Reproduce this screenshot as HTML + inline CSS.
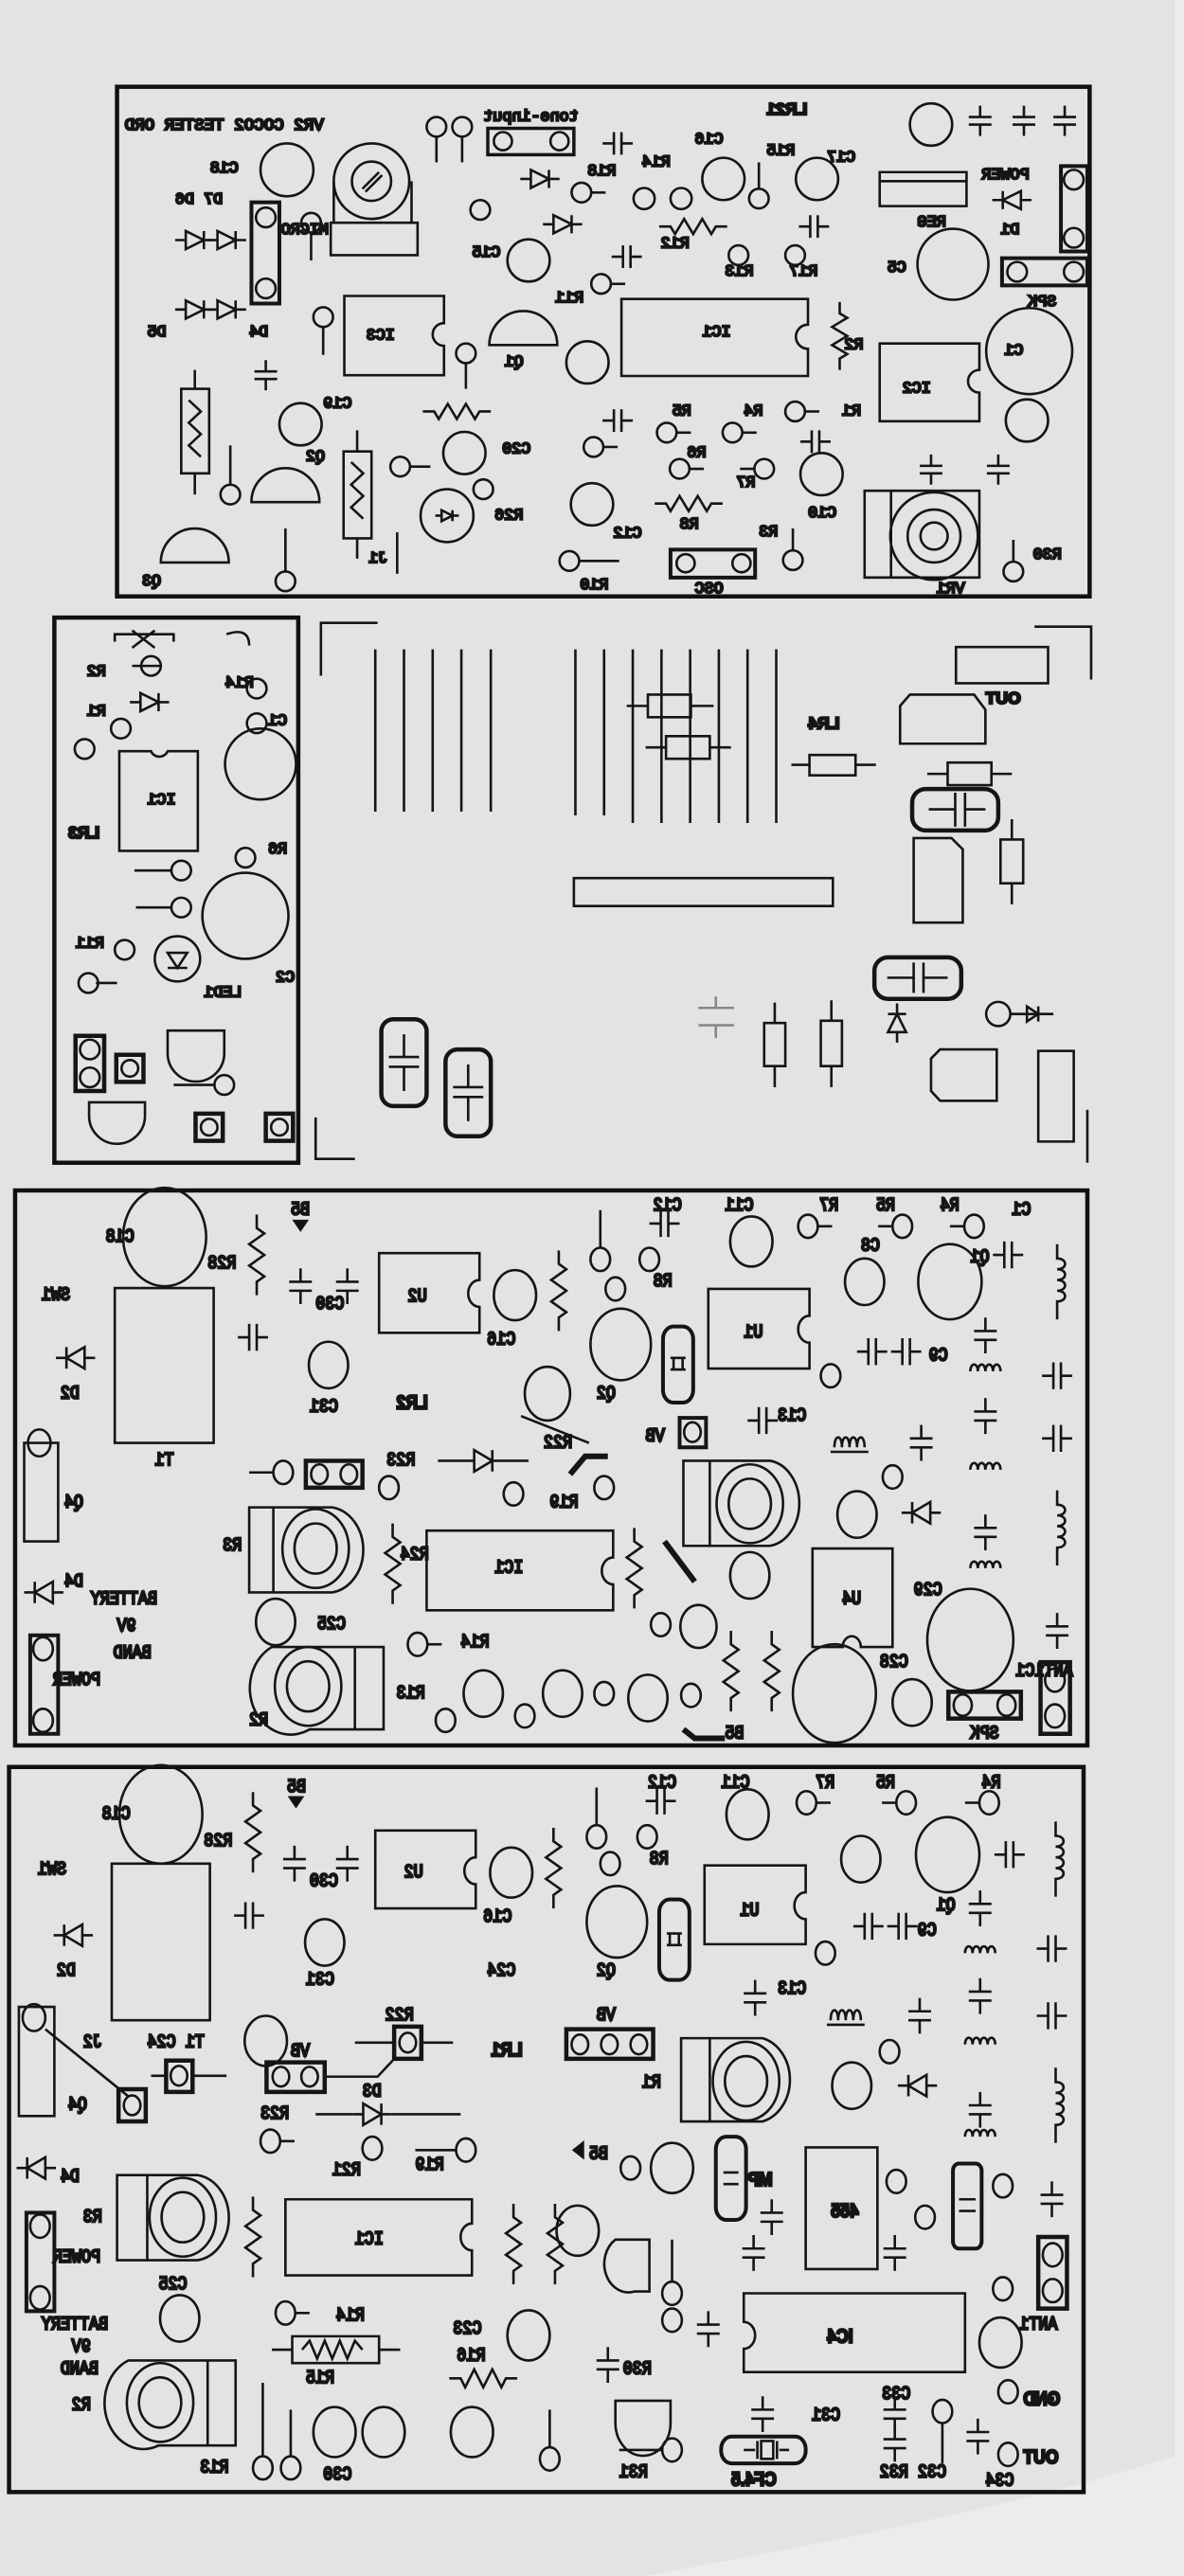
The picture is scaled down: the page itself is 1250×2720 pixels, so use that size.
<!DOCTYPE html>
<html><head><meta charset="utf-8"><style>
html,body{margin:0;padding:0;background:#e3e3e3;}
svg{display:block}
svg *{vector-effect:non-scaling-stroke}
.s{fill:none;stroke:#151515;stroke-width:2.6}
.b{fill:none;stroke:#111;stroke-width:4.5}
.t{font-family:"Liberation Mono",monospace;fill:#858585;font-size:21px}
.tb{font-family:"Liberation Sans",sans-serif;fill:#222;font-size:22px;font-weight:bold}
.m{transform-box:fill-box;transform-origin:center;transform:scale(-1,1)}
</style></head><body>
<svg width="1250" height="2720" viewBox="0 0 1250 2720" xmlns="http://www.w3.org/2000/svg">
<defs>
<path id="ch" d="M-20 0H-5M5 0H20M-5-15V15M5-15V15"/>
<path id="cv" d="M0-20V-5M0 5V20M-15-5H15M-15 5H15"/>
<path id="zv" d="M0-45V-30L10-24L-10-12L10 0L-10 12L10 24L0 30V45"/>
<path id="zh" d="M-45 0H-30L-24 10L-12-10L0 10L12-10L24 10L30 0H45"/>
<path id="dh" d="M-26 0H-12M12 0H26M-12-12L12 0L-12 12ZM12-12V12"/>
<path id="dv" d="M0-26V-12M0 12V26M-12-12L0 12L12-12ZM-12 12H12"/>
<path id="ind" d="M0-42V-26C14-26 14-14 0-14C14-14 14-2 0-2C14-2 14 10 0 10C14 10 14 22 0 22V42"/>
<g id="pad"><circle r="13"/><path d="M13 0H32"/></g>
<path id="qu" d="M-45 0A45 45 0 0 1 45 0Z"/>
</defs>

<rect x="1240" y="0" width="10" height="2720" fill="#ececec"/>
<path d="M680 2720C900 2680 1100 2640 1250 2590V2720Z" fill="#ececec"/>

<g transform="scale(0.7972)" class="s">
<rect class="b" x="155" y="115" width="1288" height="675"/>
<text class="t m" x="165" y="172" style="font-size:22px">VR2 COCO2 TESTER ORD</text>
<text class="tb m" x="1015" y="152">LR21</text>
<circle cx="380" cy="225" r="35"/><text class="t m" x="278" y="228">C18</text>
<circle cx="492" cy="240" r="50"/><circle cx="492" cy="240" r="26"/><path d="M480 250L502 228M484 254L506 232"/><rect x="438" y="295" width="115" height="43"/><path d="M442 240V295M545 240V295"/>
<circle cx="578" cy="168" r="13"/><path d="M578 181V215"/><circle cx="612" cy="168" r="13"/><path d="M612 181V215"/>
<text class="t m" x="640" y="160">tone-input</text>
<rect x="646" y="170" width="114" height="35" style="stroke-width:3.5"/><circle cx="666" cy="187" r="12"/><circle cx="741" cy="187" r="12"/>
<use href="#dh" x="715" y="237"/><use href="#dh" x="745" y="297"/>
<use href="#cv" x="818" y="190" transform="rotate(90 818 190)"/>
<use href="#pad" x="770" y="255"/><text class="t m" x="778" y="232">R18</text>
<circle cx="853" cy="263" r="14"/><circle cx="902" cy="263" r="14"/><text class="t m" x="850" y="220">R14</text>
<circle cx="958" cy="237" r="28"/><text class="t m" x="920" y="190">C16</text>
<circle cx="1005" cy="263" r="13"/><path d="M1005 250V215"/>
<circle cx="1082" cy="237" r="28"/><text class="t m" x="1095" y="214">C17</text><text class="t m" x="1015" y="205">R15</text>
<use href="#cv" x="1298" y="160"/><use href="#cv" x="1356" y="160"/><use href="#cv" x="1410" y="160"/>
<circle cx="1233" cy="165" r="28"/>
<rect x="1165" y="228" width="115" height="45"/><path d="M1165 240H1280"/><text class="t m" x="1215" y="300">REG</text>
<text class="t m" x="1300" y="237">POWER</text><use href="#dh" x="1340" y="265" transform="rotate(180 1340 265)"/><text class="t m" x="1325" y="310">D1</text>
<rect x="1405" y="220" width="35" height="113" style="stroke-width:4"/><circle cx="1422" cy="238" r="13"/><circle cx="1422" cy="315" r="13"/>
<rect x="1327" y="342" width="113" height="36" style="stroke-width:4"/><circle cx="1347" cy="360" r="13"/><circle cx="1422" cy="360" r="13"/><text class="t m" x="1360" y="405">SPK</text>
<circle cx="1262" cy="350" r="47"/><text class="t m" x="1175" y="360">C5</text>
<circle cx="1363" cy="465" r="57"/><text class="t m" x="1330" y="470">C1</text>
<circle cx="1360" cy="557" r="28"/>
<path d="M1165 455H1297V490A15 15 0 0 0 1297 520V558H1165Z"/><text class="t m" x="1195" y="520">IC2</text>
<path d="M823 396H1070V430A16 16 0 0 0 1070 462V498H823Z"/><text class="t m" x="930" y="445">IC1</text>
<path d="M456 392H588V428A15 15 0 0 0 588 458V497H456Z"/><text class="t m" x="485" y="450">IC3</text>
<use href="#zv" x="1112" y="445"/><text class="t m" x="1118" y="462">R2</text>
<use href="#qu" x="693" y="457"/><text class="t m" x="668" y="485">Q1</text>
<circle cx="700" cy="345" r="28"/><text class="t m" x="625" y="340">C15</text>
<circle cx="778" cy="480" r="28"/><use href="#pad" x="796" y="376"/><text class="t m" x="735" y="400">R11</text>
<rect x="333" y="268" width="37" height="134" style="stroke-width:4"/><circle cx="352" cy="288" r="13"/><circle cx="352" cy="382" r="13"/><text class="t m" x="372" y="310">MICRO</text>
<use href="#dh" x="258" y="318"/><use href="#dh" x="300" y="318"/><use href="#dh" x="258" y="410"/><use href="#dh" x="300" y="410"/>
<text class="t m" x="232" y="270">D7 D6</text><text class="t m" x="195" y="445">D5</text><text class="t m" x="330" y="445">D4</text>
<circle cx="412" cy="295" r="13"/><path d="M412 308V345"/><circle cx="428" cy="420" r="13"/><path d="M428 433V470"/>
<circle cx="617" cy="468" r="13"/><path d="M617 481V515"/>
<use href="#cv" x="352" y="497"/>
<circle cx="398" cy="562" r="28"/><text class="t m" x="428" y="540">C19</text>
<use href="#qu" x="378" y="665"/><text class="t m" x="405" y="610">Q2</text>
<rect x="240" y="515" width="37" height="112"/><path d="M258 490V515M258 627V655M250 530L266 545L250 560L266 575L250 590L266 605"/>
<circle cx="305" cy="655" r="13"/><path d="M305 642V590"/>
<use href="#qu" x="258" y="745"/><text class="t m" x="188" y="775">Q3</text>
<circle cx="378" cy="770" r="13"/><path d="M378 757V700"/>
<rect x="455" y="598" width="37" height="115"/><path d="M473 570V598M473 713V740M465 612L481 627L465 642L481 657L465 672L481 687"/>
<path d="M526 705V760"/><text class="t m" x="488" y="745">J1</text>
<use href="#zh" x="605" y="545"/><circle cx="615" cy="600" r="28"/><text class="t m" x="665" y="600">C20</text>
<circle cx="592" cy="683" r="35"/><use href="#dh" x="592" y="683" transform="scale(0.6) translate(394.7 455.3)"/>
<circle cx="530" cy="618" r="13"/><path d="M543 618H570"/>
<circle cx="640" cy="648" r="13"/><text class="t m" x="655" y="688">R26</text>
<circle cx="784" cy="668" r="28"/><text class="t m" x="812" y="712">C12</text>
<use href="#pad" x="786" y="592"/>
<use href="#cv" x="818" y="557" transform="rotate(90 818 557)"/>
<use href="#pad" x="883" y="573"/><use href="#pad" x="900" y="621"/><use href="#pad" x="970" y="573"/><use href="#pad" x="1012" y="621" transform="rotate(180 1012 621)"/><use href="#pad" x="1053" y="545"/>
<text class="t m" x="890" y="550">R5</text><text class="t m" x="985" y="550">R4</text><text class="t m" x="1115" y="550">R1</text><text class="t m" x="910" y="605">R6</text><text class="t m" x="975" y="645">R7</text>
<use href="#cv" x="1080" y="585" transform="rotate(90 1080 585)"/><circle cx="1088" cy="628" r="28"/><text class="t m" x="1070" y="685">C10</text>
<use href="#zh" x="912" y="667"/><text class="t m" x="900" y="700">R8</text>
<rect x="888" y="728" width="112" height="37" style="stroke-width:4"/><circle cx="908" cy="746" r="12"/><circle cx="982" cy="746" r="12"/><text class="t m" x="920" y="785">OSC</text>
<circle cx="1050" cy="742" r="13"/><path d="M1050 729V700"/><text class="t m" x="1005" y="710">R3</text>
<circle cx="754" cy="743" r="13"/><path d="M767 743H820"/><text class="t m" x="768" y="780">R10</text>
<rect x="1145" y="650" width="152" height="115"/><circle cx="1237" cy="710" r="58"/><circle cx="1237" cy="710" r="35"/><circle cx="1237" cy="710" r="18"/><path d="M1180 650V765"/><text class="t m" x="1240" y="785">VR1</text>
<circle cx="1342" cy="757" r="13"/><path d="M1342 744V715"/><text class="t m" x="1368" y="740" transform="rotate(90 1378 740)">R30</text>
<use href="#cv" x="1233" y="622"/><use href="#cv" x="1322" y="622"/>
<use href="#zh" x="918" y="300"/><text class="t m" x="875" y="328">R12</text>
<circle cx="978" cy="338" r="13"/><circle cx="1053" cy="338" r="13"/><text class="t m" x="960" y="365">R13</text><text class="t m" x="1045" y="365">R17</text>
<use href="#ch" x="1078" y="300"/><use href="#ch" x="830" y="340"/>
<circle cx="636" cy="278" r="13"/>

<rect class="b" x="72" y="818" width="323" height="722"/>
<path d="M158 995H200A12 12 0 0 0 222 995H262V1127H158Z"/><text class="t m" x="195" y="1065" transform="rotate(90 210 1060)">IC1</text>
<text class="tb m" x="90" y="1110" transform="rotate(90 105 1105)">LR3</text>
<circle cx="345" cy="1012" r="47"/><circle cx="325" cy="1213" r="57"/>
<circle cx="340" cy="912" r="13"/><circle cx="340" cy="958" r="13"/><circle cx="200" cy="882" r="13"/><circle cx="160" cy="965" r="13"/><circle cx="112" cy="992" r="13"/><circle cx="325" cy="1136" r="13"/><circle cx="240" cy="1153" r="13"/><circle cx="240" cy="1202" r="13"/><circle cx="165" cy="1258" r="13"/><circle cx="117" cy="1302" r="13"/><circle cx="297" cy="1437" r="13"/>
<path d="M175 882H213M127 1302H155M228 1153H178M228 1202H180M230 1437H284"/>
<circle cx="235" cy="1270" r="30"/><path d="M222 1262L248 1262L235 1282ZM222 1282H248"/>
<use href="#dh" x="198" y="930"/>
<path d="M222 1365H297V1395A37 37 0 0 1 222 1395Z"/>
<path d="M118 1460H192V1478A37 37 0 0 1 118 1478Z"/>
<rect x="100" y="1372" width="38" height="73" style="stroke-width:4.5"/><circle cx="119" cy="1390" r="13"/><circle cx="119" cy="1427" r="13"/>
<rect x="154" y="1397" width="36" height="36" style="stroke-width:4.5"/><circle cx="172" cy="1415" r="11"/>
<rect x="259" y="1475" width="36" height="36" style="stroke-width:4.5"/><circle cx="277" cy="1493" r="11"/>
<rect x="352" y="1475" width="36" height="36" style="stroke-width:4.5"/><circle cx="370" cy="1493" r="11"/>
<path d="M152 850V840H230V850M175 835L205 858M205 835L175 858"/>
<path d="M300 840Q330 830 330 855"/>
<text class="t m" x="115" y="895" transform="rotate(90 125 890)">R2</text><text class="t m" x="115" y="948" transform="rotate(90 125 945)">R1</text><text class="t m" x="298" y="910" transform="rotate(90 310 910)">R14</text><text class="t m" x="355" y="960" transform="rotate(90 368 955)">C1</text><text class="t m" x="355" y="1130" transform="rotate(90 365 1125)">R6</text><text class="t m" x="365" y="1300" transform="rotate(90 375 1295)">C2</text><text class="t m" x="100" y="1255" transform="rotate(90 110 1250)">R11</text><text class="t m" x="270" y="1320" transform="rotate(90 285 1315)">LED1</text>

<path d="M500 825H425V895M1370 830H1445V900M418 1480V1535H470M1440 1470V1540"/>
<path d="M497 860V1075M535 860V1075M573 860V1075M611 860V1075M650 860V1075"/>
<path d="M762 860V1080M800 860V1080M838 860V1090M876 860V1090M914 860V1090M952 860V1090M990 860V1090M1028 860V1090"/>
<rect x="858" y="920" width="57" height="30"/><path d="M830 935H858M915 935H945"/>
<rect x="882" y="975" width="58" height="30"/><path d="M855 990H882M940 990H968"/>
<text class="tb m" x="1070" y="965">LR4</text>
<rect x="1072" y="1000" width="61" height="27"/><path d="M1048 1013H1072M1133 1013H1160"/>
<rect x="1266" y="857" width="122" height="48"/><text class="tb m" x="1305" y="932">OUT</text>
<path d="M1205 920H1290L1305 940V985H1192V935Z"/>
<rect x="1255" y="1010" width="58" height="30"/><path d="M1228 1025H1255M1313 1025H1340"/>
<rect x="1208" y="1045" width="114" height="55" rx="18" style="stroke-width:4.5"/><path d="M1265 1050V1095M1278 1050V1095M1230 1072H1265M1278 1072H1305"/>
<rect x="1325" y="1112" width="30" height="58"/><path d="M1340 1085V1112M1340 1170V1198"/>
<path d="M1210 1110H1260L1275 1125V1222H1210Z"/>
<rect x="760" y="1163" width="343" height="37"/>
<rect x="1158" y="1268" width="115" height="55" rx="18" style="stroke-width:4.5"/><path d="M1210 1275V1315M1223 1275V1315M1175 1295H1210M1223 1295H1255"/>
<path d="M925 1335H972M925 1358H972M948 1320V1335M948 1358V1375" style="stroke:#888"/>
<rect x="1012" y="1355" width="28" height="57"/><path d="M1026 1328V1355M1026 1412V1440"/>
<rect x="1087" y="1352" width="28" height="60"/><path d="M1101 1325V1352M1101 1412V1440"/>
<use href="#dv" x="1188" y="1355" transform="rotate(180 1188 1355)"/>
<circle cx="1322" cy="1343" r="16"/><path d="M1338 1343H1395M1360 1333L1375 1343L1360 1353ZM1375 1333V1353"/>
<path d="M1245 1390H1320V1458H1245L1233 1445V1402Z"/>
<rect x="1375" y="1392" width="47" height="120"/>
<rect x="505" y="1350" width="60" height="115" rx="16" style="stroke-width:4.5"/><path d="M515 1400H555M515 1413H555M535 1370V1400M535 1413V1445"/>
<rect x="590" y="1390" width="60" height="115" rx="16" style="stroke-width:4.5"/><path d="M600 1440H640M600 1453H640M620 1410V1440M620 1453V1485"/>
</g>

<g transform="translate(0 1240) scale(0.7972 0.9452)" class="s">
<rect class="b" x="20" y="18" width="1420" height="620"/>
<circle cx="218" cy="70" r="55"/><text class="t m" x="140" y="75">C18</text>
<use href="#zv" x="340" y="90"/><text class="t m" x="275" y="105">R28</text>
<path d="M390 52H406L398 62Z" style="fill:#111"/><text class="t m" x="385" y="45">B5</text>
<use href="#cv" x="398" y="125"/><use href="#cv" x="460" y="125"/><text class="t m" x="418" y="150" transform="rotate(90 430 140)">C30</text>
<path d="M502 88H635V118A15 15 0 0 0 635 148V177H502Z"/><text class="t m" x="540" y="142">U2</text>
<circle cx="682" cy="135" r="28"/><text class="t m" x="645" y="190">C16</text>
<use href="#zv" x="740" y="130"/>
<circle cx="795" cy="95" r="13"/><path d="M795 82V40"/><circle cx="860" cy="95" r="13"/><circle cx="815" cy="128" r="13"/><text class="t m" x="865" y="125">R8</text>
<use href="#cv" x="880" y="55" transform="rotate(90 880 55)"/><text class="t m" x="865" y="40">C12</text>
<circle cx="995" cy="75" r="28"/><text class="t m" x="960" y="40">C11</text>
<use href="#pad" x="1070" y="58"/><use href="#pad" x="1195" y="58" transform="rotate(180 1195 58)"/><use href="#pad" x="1290" y="58" transform="rotate(180 1290 58)"/>
<text class="t m" x="1085" y="40">R7</text><text class="t m" x="1160" y="40">R5</text><text class="t m" x="1245" y="40">R4</text>
<circle cx="1258" cy="120" r="42"/><text class="t m" x="1285" y="98">Q1</text>
<use href="#cv" x="1335" y="90" transform="rotate(90 1335 90)"/><use href="#ind" x="1400" y="120"/><text class="t m" x="1340" y="45" transform="rotate(90 1350 40)">C1</text>
<circle cx="1145" cy="120" r="26"/><text class="t m" x="1140" y="85">C8</text>
<path d="M938 128H1072V158A15 15 0 0 0 1072 188V217H938Z"/><text class="t m" x="985" y="182">U1</text>
<use href="#ch" x="1155" y="198"/><use href="#ch" x="1200" y="198"/><circle cx="1100" cy="225" r="13"/><text class="t m" x="1230" y="208">C9</text>
<circle cx="822" cy="190" r="40"/><text class="t m" x="790" y="250">Q2</text>
<rect x="878" y="170" width="40" height="85" rx="14" style="stroke-width:4"/><path d="M888 205H908M888 218H908M892 205V218M904 205V218"/>
<use href="#ch" x="335" y="182"/><circle cx="435" cy="213" r="26"/><text class="t m" x="410" y="265">C31</text>
<rect x="152" y="127" width="131" height="173"/><text class="t m" x="205" y="325">T1</text><text class="t m" x="55" y="140">SW1</text>
<use href="#dv" x="100" y="205" transform="rotate(90 100 205)"/><text class="t m" x="80" y="250">D2</text>
<circle cx="725" cy="245" r="30"/><path d="M690 270L780 300"/><text class="t m" x="720" y="305">R22</text>
<text class="tb m" x="525" y="262">LR2</text>
<use href="#ch" x="1305" y="180" transform="rotate(90 1305 180)"/><use href="#ch" x="1400" y="225"/>
<path d="M1285 220C1285 210 1295 210 1295 220C1295 210 1305 210 1305 220C1305 210 1315 210 1315 220C1315 210 1325 210 1325 220"/>
<use href="#ch" x="1305" y="270" transform="rotate(90 1305 270)"/><use href="#ch" x="1400" y="295"/>
<rect x="900" y="272" width="35" height="33" style="stroke-width:4"/><circle cx="917" cy="288" r="11"/><text class="t m" x="855" y="298">VB</text>
<use href="#ch" x="1010" y="275"/><text class="t m" x="1030" y="275">C13</text>
<path d="M1100 310H1150M1105 305C1105 290 1115 290 1115 305C1115 290 1125 290 1125 305C1125 290 1135 290 1135 305C1135 290 1145 290 1145 305"/>
<use href="#cv" x="1220" y="300"/>
<circle cx="375" cy="333" r="13"/><path d="M330 333H362"/>
<rect x="405" y="320" width="75" height="30" style="stroke-width:4.5"/><circle cx="423" cy="335" r="11"/><circle cx="462" cy="335" r="11"/>
<circle cx="515" cy="350" r="13"/><text class="t m" x="512" y="325">R23</text>
<use href="#dh" x="640" y="320"/><path d="M580 320H614M666 320H700"/>
<circle cx="680" cy="357" r="13"/><circle cx="800" cy="350" r="13"/><text class="t m" x="728" y="372">R19</text>
<path d="M755 335L775 315H805" style="stroke-width:6"/>
<path d="M905 320H1020A45 48 0 0 1 1020 415H905Z"/><circle cx="993" cy="368" r="44"/><circle cx="993" cy="368" r="28"/><path d="M940 320V415"/>
<circle cx="1182" cy="338" r="13"/><circle cx="1135" cy="380" r="26"/><use href="#dh" x="1220" y="378" transform="rotate(180 1220 378)"/>
<path d="M1285 330C1285 320 1295 320 1295 330C1295 320 1305 320 1305 330C1305 320 1315 320 1315 330C1315 320 1325 320 1325 330"/>
<use href="#ind" x="1400" y="395"/>
<use href="#ch" x="1305" y="400" transform="rotate(90 1305 400)"/>
<path d="M1285 440C1285 430 1295 430 1295 440C1295 430 1305 430 1305 440C1305 430 1315 430 1315 440C1315 430 1325 430 1325 440"/>
<rect x="32" y="300" width="45" height="110"/><circle cx="52" cy="300" r="15"/><text class="t m" x="85" y="372">Q4</text>
<use href="#dv" x="58" y="467" transform="rotate(90 58 467)"/><text class="t m" x="85" y="460">D4</text>
<text class="t m" x="120" y="480">BATTERY</text><text class="t m" x="155" y="510">9V</text><text class="t m" x="150" y="540">BAND</text>
<rect x="40" y="515" width="37" height="110" style="stroke-width:4"/><circle cx="57" cy="530" r="13"/><circle cx="57" cy="610" r="13"/><text class="t m" x="70" y="570" transform="rotate(90 115 565)">POWER</text>
<path d="M330 372H440A48 48 0 0 1 440 467H330Z"/><circle cx="418" cy="418" r="44"/><circle cx="418" cy="418" r="28"/><path d="M362 372V467"/><text class="t m" x="295" y="420" transform="rotate(90 305 415)">R3</text>
<use href="#zv" x="520" y="435"/><text class="t m" x="530" y="430" transform="rotate(90 545 430)">R24</text>
<path d="M565 398H812V428A15 15 0 0 0 812 458V487H565Z"/><text class="t m" x="655" y="445">IC1</text>
<use href="#zv" x="840" y="440"/><path d="M880 410L920 455" style="stroke-width:6"/>
<circle cx="993" cy="448" r="26"/><path d="M1076 418H1182V528H1140A12 12 0 0 0 1116 528H1076Z"/><text class="t m" x="1115" y="480" transform="rotate(90 1128 470)">U4</text>
<circle cx="1285" cy="520" r="57"/><text class="t m" x="1210" y="470">C29</text>
<use href="#ch" x="1400" y="510" transform="rotate(90 1400 510)"/><text class="t m" x="1345" y="560" transform="rotate(90 1360 555)">ANT1C1</text>
<circle cx="365" cy="500" r="26"/><text class="t m" x="420" y="508">C25</text>
<path d="M360 528H508V620H410A48 46 0 0 1 360 528Z"/><circle cx="408" cy="572" r="44"/><circle cx="408" cy="572" r="28"/><path d="M470 528V620"/><text class="t m" x="330" y="615">R2</text>
<use href="#pad" x="553" y="525"/><text class="t m" x="610" y="528">R14</text>
<circle cx="640" cy="580" r="26"/><circle cx="745" cy="580" r="26"/><circle cx="800" cy="580" r="13"/><circle cx="858" cy="585" r="26"/><circle cx="915" cy="582" r="13"/>
<circle cx="590" cy="610" r="13"/><circle cx="695" cy="605" r="13"/><text class="t m" x="525" y="585">R13</text>
<use href="#zv" x="968" y="555"/><use href="#zv" x="1022" y="555"/>
<circle cx="1105" cy="580" r="55"/><circle cx="1208" cy="590" r="26"/><text class="t m" x="1165" y="550">C28</text>
<rect x="1256" y="578" width="96" height="30" style="stroke-width:4.5"/><circle cx="1275" cy="593" r="12"/><circle cx="1333" cy="593" r="12"/><text class="t m" x="1285" y="630">SPK</text>
<rect x="1378" y="545" width="39" height="80" style="stroke-width:4.5"/><circle cx="1397" cy="565" r="13"/><circle cx="1397" cy="605" r="13"/>
<circle cx="875" cy="503" r="13"/><circle cx="925" cy="505" r="24"/><path d="M905 620L920 630H960" style="stroke-width:6"/><text class="t m" x="960" y="630">B5</text>

<rect class="b" x="12" y="662" width="1423" height="810"/>
<circle cx="213" cy="715" r="55"/><text class="t m" x="135" y="720">C18</text>
<use href="#zv" x="335" y="735"/><text class="t m" x="270" y="750">R28</text>
<path d="M384 696H400L392 706Z" style="fill:#111"/><text class="t m" x="380" y="690">B5</text>
<use href="#cv" x="390" y="770"/><use href="#cv" x="460" y="770"/><text class="t m" x="410" y="795" transform="rotate(90 425 785)">C30</text>
<path d="M497 733H630V763A15 15 0 0 0 630 793V820H497Z"/><text class="t m" x="535" y="785">U2</text>
<circle cx="677" cy="780" r="28"/><text class="t m" x="640" y="835">C16</text><use href="#zv" x="733" y="775"/>
<circle cx="790" cy="740" r="13"/><path d="M790 727V685"/><circle cx="857" cy="740" r="13"/><circle cx="808" cy="770" r="13"/><text class="t m" x="860" y="770">R8</text>
<use href="#cv" x="875" y="700" transform="rotate(90 875 700)"/><text class="t m" x="858" y="685">C12</text>
<circle cx="990" cy="715" r="28"/><text class="t m" x="955" y="685">C11</text>
<use href="#pad" x="1068" y="702"/><use href="#pad" x="1200" y="702" transform="rotate(180 1200 702)"/><use href="#pad" x="1310" y="702" transform="rotate(180 1310 702)"/>
<text class="t m" x="1080" y="685">R7</text><text class="t m" x="1160" y="685">R5</text><text class="t m" x="1300" y="685">R4</text>
<circle cx="1255" cy="760" r="42"/><text class="t m" x="1240" y="822">Q1</text>
<use href="#cv" x="1337" y="760" transform="rotate(90 1337 760)"/><use href="#ind" x="1398" y="765"/>
<circle cx="1140" cy="765" r="26"/>
<path d="M933 772H1067V802A15 15 0 0 0 1067 832V860H933Z"/><text class="t m" x="980" y="828">U1</text>
<circle cx="1093" cy="870" r="13"/><use href="#ch" x="1150" y="840"/><use href="#ch" x="1195" y="840"/><text class="t m" x="1215" y="850">C9</text>
<circle cx="817" cy="835" r="40"/><text class="t m" x="790" y="895">Q2</text>
<rect x="873" y="810" width="40" height="90" rx="14" style="stroke-width:4"/><path d="M883 848H903M883 861H903M887 848V861M899 848V861"/>
<text class="t m" x="50" y="782">SW1</text>
<rect x="148" y="770" width="130" height="175"/>
<use href="#dv" x="97" y="850" transform="rotate(90 97 850)"/><text class="t m" x="75" y="895">D2</text>
<use href="#ch" x="330" y="828"/><circle cx="430" cy="858" r="26"/><text class="t m" x="405" y="905">C31</text><text class="t m" x="645" y="895" transform="rotate(90 655 885)">C24</text>
<use href="#ch" x="1298" y="820" transform="rotate(90 1298 820)"/><use href="#ch" x="1393" y="865"/>
<path d="M1278 870C1278 860 1288 860 1288 870C1288 860 1298 860 1298 870C1298 860 1308 860 1308 870C1308 860 1318 860 1318 870"/>
<use href="#ch" x="1298" y="918" transform="rotate(90 1298 918)"/><use href="#ch" x="1393" y="940"/>
<rect x="25" y="930" width="47" height="122"/><circle cx="45" cy="942" r="15"/><path d="M60 955L170 1030"/><text class="t m" x="90" y="1045">Q4</text>
<rect x="157" y="1022" width="36" height="36" style="stroke-width:4.5"/><circle cx="175" cy="1040" r="11"/>
<rect x="220" y="990" width="35" height="35" style="stroke-width:4.5"/><circle cx="237" cy="1007" r="11"/><path d="M200 1007H220M255 1007H300"/>
<text class="t m" x="110" y="975">J2</text><text class="t m" x="195" y="975">T1 C24</text>
<circle cx="352" cy="968" r="28"/><rect x="353" y="992" width="77" height="33" style="stroke-width:4.5"/><circle cx="372" cy="1008" r="11"/><circle cx="410" cy="1008" r="11"/><text class="t m" x="385" y="985">VB</text>
<rect x="522" y="952" width="36" height="36" style="stroke-width:4.5"/><circle cx="540" cy="970" r="11"/><path d="M470 970H522M558 970H600M430 1008H500L520 990"/><text class="t m" x="510" y="945">R22</text>
<text class="tb m" x="650" y="985" transform="rotate(90 665 975)">LR1</text>
<rect x="750" y="955" width="115" height="33" style="stroke-width:4.5"/><circle cx="768" cy="972" r="11"/><circle cx="807" cy="972" r="11"/><circle cx="846" cy="972" r="11"/><text class="t m" x="790" y="945">VB</text>
<path d="M902 965H1010A48 48 0 0 1 1010 1058H902Z"/><circle cx="988" cy="1013" r="44"/><circle cx="988" cy="1013" r="28"/><path d="M940 965V1058"/><text class="t m" x="850" y="1020">R1</text>
<use href="#ch" x="1000" y="920" transform="rotate(90 1000 920)"/><text class="t m" x="1030" y="915">C13</text>
<path d="M1095 950H1145M1100 945C1100 930 1110 930 1110 945C1110 930 1120 930 1120 945C1120 930 1130 930 1130 945C1130 930 1140 930 1140 945"/>
<use href="#cv" x="1218" y="940"/><circle cx="1178" cy="980" r="13"/><circle cx="1128" cy="1018" r="26"/><use href="#dh" x="1215" y="1018" transform="rotate(180 1215 1018)"/>
<path d="M1278 972C1278 962 1288 962 1288 972C1288 962 1298 962 1298 972C1298 962 1308 962 1308 972C1308 962 1318 962 1318 972"/>
<use href="#ind" x="1398" y="1040"/><use href="#ch" x="1298" y="1045" transform="rotate(90 1298 1045)"/>
<path d="M1278 1075C1278 1065 1288 1065 1288 1075C1288 1065 1298 1065 1298 1075C1298 1065 1308 1065 1308 1075C1308 1065 1318 1065 1318 1075"/>
<use href="#dh" x="493" y="1050"/><path d="M418 1050H467M519 1050H610"/><text class="t m" x="480" y="1030">D3</text>
<use href="#pad" x="358" y="1080"/><text class="t m" x="345" y="1055">R23</text>
<circle cx="493" cy="1088" r="13"/><circle cx="617" cy="1090" r="13"/><path d="M550 1090H604"/><text class="t m" x="440" y="1118">R21</text><text class="t m" x="550" y="1112">R19</text>
<path d="M760 1090L772 1082V1098Z" style="fill:#111"/><text class="t m" x="780" y="1100">B5</text>
<circle cx="835" cy="1110" r="13"/><circle cx="890" cy="1110" r="28"/>
<rect x="948" y="1075" width="40" height="93" rx="14" style="stroke-width:4"/><path d="M958 1115H978M958 1128H978"/><text class="tb m" x="990" y="1130" transform="rotate(90 1000 1125)">MP</text>
<rect x="1067" y="1087" width="95" height="136"/><text class="tb m" x="1100" y="1165" transform="rotate(90 1115 1155)">455</text>
<use href="#ch" x="1022" y="1165" transform="rotate(90 1022 1165)"/><use href="#ch" x="998" y="1205" transform="rotate(90 998 1205)"/><use href="#ch" x="1185" y="1205" transform="rotate(90 1185 1205)"/>
<rect x="1262" y="1105" width="38" height="95" rx="8" style="stroke-width:4"/><path d="M1270 1145H1292M1270 1158H1292"/>
<circle cx="1187" cy="1125" r="13"/><circle cx="1225" cy="1165" r="13"/><circle cx="1328" cy="1130" r="13"/><use href="#ch" x="1393" y="1145" transform="rotate(90 1393 1145)"/>
<rect x="1375" y="1187" width="38" height="80" style="stroke-width:4.5"/><circle cx="1394" cy="1207" r="13"/><circle cx="1394" cy="1247" r="13"/><text class="t m" x="1350" y="1290" transform="rotate(90 1365 1280)">ANT1</text>
<circle cx="1328" cy="1245" r="13"/>
<path d="M155 1118H262A48 48 0 0 1 262 1213H155Z"/><circle cx="242" cy="1165" r="44"/><circle cx="242" cy="1165" r="28"/><path d="M195 1118V1213"/><text class="t m" x="110" y="1170" transform="rotate(90 125 1165)">R3</text>
<use href="#dv" x="48" y="1110" transform="rotate(90 48 1110)"/><text class="t m" x="80" y="1125">D4</text>
<rect x="35" y="1160" width="37" height="110" style="stroke-width:4"/><circle cx="53" cy="1175" r="13"/><circle cx="53" cy="1255" r="13"/><text class="t m" x="70" y="1215" transform="rotate(90 115 1210)">POWER</text>
<use href="#zv" x="335" y="1187"/>
<path d="M378 1145H625V1172A15 15 0 0 0 625 1202V1230H378Z"/><text class="t m" x="470" y="1195">IC1</text>
<use href="#zv" x="680" y="1195"/><use href="#zv" x="735" y="1195"/><circle cx="765" cy="1180" r="28"/>
<path d="M815 1190H860V1248H840A32 32 0 0 1 815 1190Z"/>
<circle cx="890" cy="1250" r="13"/><circle cx="890" cy="1280" r="13"/><path d="M890 1237V1190"/>
<path d="M985 1250H1278V1338H985V1312A15 15 0 0 0 985 1282Z"/><text class="tb m" x="1095" y="1305">IC4</text>
<use href="#ch" x="938" y="1290" transform="rotate(90 938 1290)"/>
<circle cx="238" cy="1278" r="26"/><text class="t m" x="210" y="1245">C25</text>
<text class="t m" x="55" y="1290">BATTERY</text><text class="t m" x="95" y="1315">9V</text><text class="t m" x="80" y="1340">BAND</text>
<use href="#pad" x="378" y="1272"/><text class="t m" x="445" y="1280">R14</text>
<rect x="387" y="1298" width="115" height="30"/><path d="M360 1313H387M502 1313H530M400 1313L410 1303L420 1323L430 1303L440 1323L450 1303L460 1323L470 1303L480 1313"/><text class="t m" x="405" y="1350">R15</text>
<circle cx="700" cy="1297" r="28"/><text class="t m" x="600" y="1295">C23</text>
<use href="#zh" x="640" y="1345"/><text class="t m" x="605" y="1325">R16</text>
<use href="#ch" x="805" y="1330" transform="rotate(90 805 1330)"/><text class="t m" x="825" y="1340" transform="rotate(90 840 1330)">R30</text>
<circle cx="1325" cy="1305" r="28"/><circle cx="1335" cy="1360" r="13"/><text class="tb m" x="1355" y="1375" transform="rotate(90 1365 1365)">GND</text>
<path d="M170 1325H312V1420H210A48 48 0 0 1 170 1325Z"/><circle cx="212" cy="1372" r="44"/><circle cx="212" cy="1372" r="28"/><path d="M275 1325V1420"/><text class="t m" x="95" y="1380">R2</text>
<circle cx="348" cy="1445" r="13"/><circle cx="385" cy="1445" r="13"/><path d="M348 1432V1350M385 1432V1380"/><text class="t m" x="265" y="1450">R13</text>
<circle cx="443" cy="1405" r="28"/><circle cx="508" cy="1405" r="28"/><circle cx="625" cy="1405" r="28"/><text class="t m" x="428" y="1458">C30</text>
<circle cx="728" cy="1435" r="13"/><path d="M728 1422V1380"/>
<path d="M815 1370H888V1395A36 36 0 0 1 815 1395Z"/><circle cx="890" cy="1425" r="13"/><path d="M820 1425H877"/><text class="t m" x="820" y="1455">R31</text>
<rect x="955" y="1410" width="112" height="30" rx="14" style="stroke-width:4"/><path d="M985 1425H1000M1032 1425H1045M1003 1415V1435M1029 1415V1435M1008 1415H1024V1435H1008Z"/><text class="tb m" x="968" y="1465">CF4.5</text>
<use href="#ch" x="1010" y="1385" transform="rotate(90 1010 1385)"/><text class="t m" x="1075" y="1392">C31</text>
<use href="#ch" x="1185" y="1385" transform="rotate(90 1185 1385)"/><use href="#ch" x="1185" y="1418" transform="rotate(90 1185 1418)"/><circle cx="1248" cy="1382" r="13"/><path d="M1248 1395V1440"/>
<text class="t m" x="1168" y="1368">C33</text><text class="t m" x="1165" y="1455">C32 R32</text><text class="t m" x="1305" y="1465">C34</text>
<use href="#cv" x="1295" y="1410"/><circle cx="1335" cy="1430" r="13"/><text class="tb m" x="1355" y="1440" transform="rotate(90 1365 1430)">OUT</text>
</g>
</svg>
</body></html>
